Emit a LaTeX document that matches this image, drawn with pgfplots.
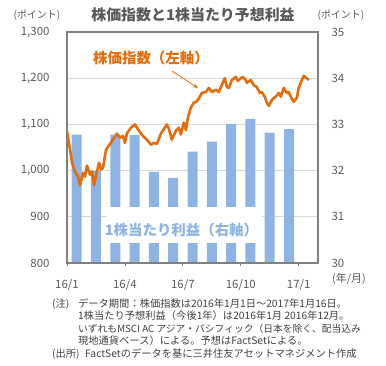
\documentclass[border=0pt]{standalone}
\usepackage{fontspec}
\setmainfont{Noto Sans CJK JP}
\usepackage{pgfplots}
\pgfplotsset{compat=1.18}
\usetikzlibrary{arrows.meta}
\definecolor{lineor}{RGB}{228,108,10}
\definecolor{barblue}{RGB}{141,180,226}
\definecolor{gridg}{RGB}{217,217,217}
\definecolor{frameg}{RGB}{128,128,128}
\definecolor{txtg}{RGB}{89,89,89}
\definecolor{notec}{RGB}{64,64,64}

\pgfplotstableread{
m v
0.00 1085
0.16 1045
0.26 1017
0.41 998
0.57 987
0.67 968
0.83 995
0.93 987
1.03 1011
1.19 991
1.29 998
1.40 968
1.55 998
1.66 1017
1.76 1002
1.86 1006
2.02 1045
2.17 1054
2.38 1067
2.59 1080
2.74 1071
2.90 1075
3.00 1060
3.10 1080
3.31 1093
3.52 1100
3.67 1090
3.83 1080
3.98 1073
4.14 1067
4.35 1056
4.50 1060
4.66 1058
4.86 1080
5.02 1090
5.17 1100
5.28 1090
5.43 1067
5.64 1086
5.79 1093
5.90 1078
6.05 1104
6.16 1088
6.26 1114
6.41 1136
6.57 1147
6.73 1150
6.88 1160
6.98 1168
7.19 1170
7.35 1179
7.50 1170
7.71 1175
7.86 1170
8.02 1185
8.17 1200
8.28 1181
8.38 1179
8.54 1196
8.74 1203
8.85 1194
9.00 1200
9.10 1203
9.26 1196
9.31 1190
9.52 1196
9.67 1185
9.83 1181
9.98 1168
10.09 1170
10.24 1160
10.35 1147
10.45 1140
10.61 1153
10.81 1160
10.97 1168
11.07 1160
11.23 1179
11.38 1168
11.48 1170
11.59 1160
11.74 1149
11.90 1157
12.00 1179
12.11 1190
12.26 1205
12.42 1200
12.52 1196
}\priceidx

\pgfplotstableread{
m eps
0.5 32.78
1.5 32.00
2.5 32.78
3.5 32.77
4.5 31.97
5.5 31.84
6.5 32.41
7.5 32.63
8.5 33.01
9.5 33.12
10.5 32.82
11.5 32.90
}\epsdata

\begin{document}
\begin{tikzpicture}[x=1bp,y=1bp]
\path[use as bounding box] (0,0) rectangle (386,-366);

\begin{axis}[
  at={(67bp,-263bp)}, anchor=south west,
  scale only axis, width=251bp, height=231bp,
  xmin=0, xmax=13, ymin=30, ymax=35,
  ytick={30,31,32,33,34,35},
  yticklabel pos=right,
  ymajorgrids, grid style={gridg, line width=1.2bp},
  ytick style={draw=none},
  xtick={0,3,6,9,12}, xticklabels={16/1,16/4,16/7,16/10,17/1},
  xtick pos=left, xtick align=inside,
  major tick length=3bp,
  xtick style={frameg, line width=0.8bp},
  axis line style={frameg, line width=1.2bp},
  tick label style={font=\fontsize{11.5}{12}\selectfont, text=txtg},
  /pgf/number format/assume math mode=true,
  yticklabel style={xshift=10bp},
  xticklabel style={yshift=-10bp},
  ybar, bar width=10bp,
]
\addplot[fill=barblue, draw=none] table[x=m, y=eps] {\epsdata};
\end{axis}

\fill[white] (107,-207) rectangle (262,-243);
\node[text=barblue, font=\fontsize{14.5}{15}\selectfont\bfseries] at (181.5,-230.5) {1株当たり利益（右軸）};

\begin{axis}[
  at={(67bp,-263bp)}, anchor=south west,
  scale only axis, width=251bp, height=231bp,
  xmin=0, xmax=13, ymin=800, ymax=1300,
  ytick={800,900,1000,1100,1200,1300},
  yticklabel pos=left,
  ytick style={draw=none},
  xtick=\empty,
  scaled y ticks=false,
  axis line style={frameg, line width=1.2bp},
  tick label style={font=\fontsize{11.5}{12}\selectfont, text=txtg},
  /pgf/number format/.cd, 1000 sep={,}, assume math mode=true,
  /pgfplots/.cd,
  yticklabel style={xshift=-14bp},
]
\addplot[lineor, line width=2.6bp, line join=round, no markers] table[x=m, y=v] {\priceidx};
\end{axis}

\node[text=txtg, font=\fontsize{15}{16}\selectfont\bfseries] at (193,-15) {株価指数と1株当たり予想利益};
\node[text=txtg, font=\fontsize{10}{11}\selectfont] at (37,-15) {(ポイント)};
\node[text=txtg, font=\fontsize{10}{11}\selectfont] at (341,-15) {(ポイント)};
\node[text=lineor, font=\fontsize{14.5}{15}\selectfont\bfseries] at (151,-58) {株価指数（左軸）};
\draw[lineor, line width=0.8bp, -{Stealth[length=5bp,width=4bp]}] (172,-71) -- (198,-88);
\node[text=txtg, font=\fontsize{11}{12}\selectfont, anchor=west, inner sep=0] at (332,-279) {(年/月)};

\begin{scope}[every node/.style={anchor=west, inner sep=0, text=notec, font=\fontsize{10.3}{11}\selectfont}]
\node at (52,-304) {(注)};
\node at (78,-304) {データ期間：株価指数は2016年1月1日～2017年1月16日。};
\node at (78,-316) {1株当たり予想利益（今後1年）は2016年1月~2016年12月。};
\node[font=\fontsize{9.8}{11}\selectfont] at (78,-329) {いずれもMSCI AC アジア・パシフィック（日本を除く、配当込み};
\node at (78,-341) {現地通貨ベース）による。予想はFactSetによる。};
\node at (52,-354) {(出所)};
\node at (85,-354) {FactSetのデータを基に三井住友アセットマネジメント作成};
\end{scope}
\end{tikzpicture}
\end{document}
